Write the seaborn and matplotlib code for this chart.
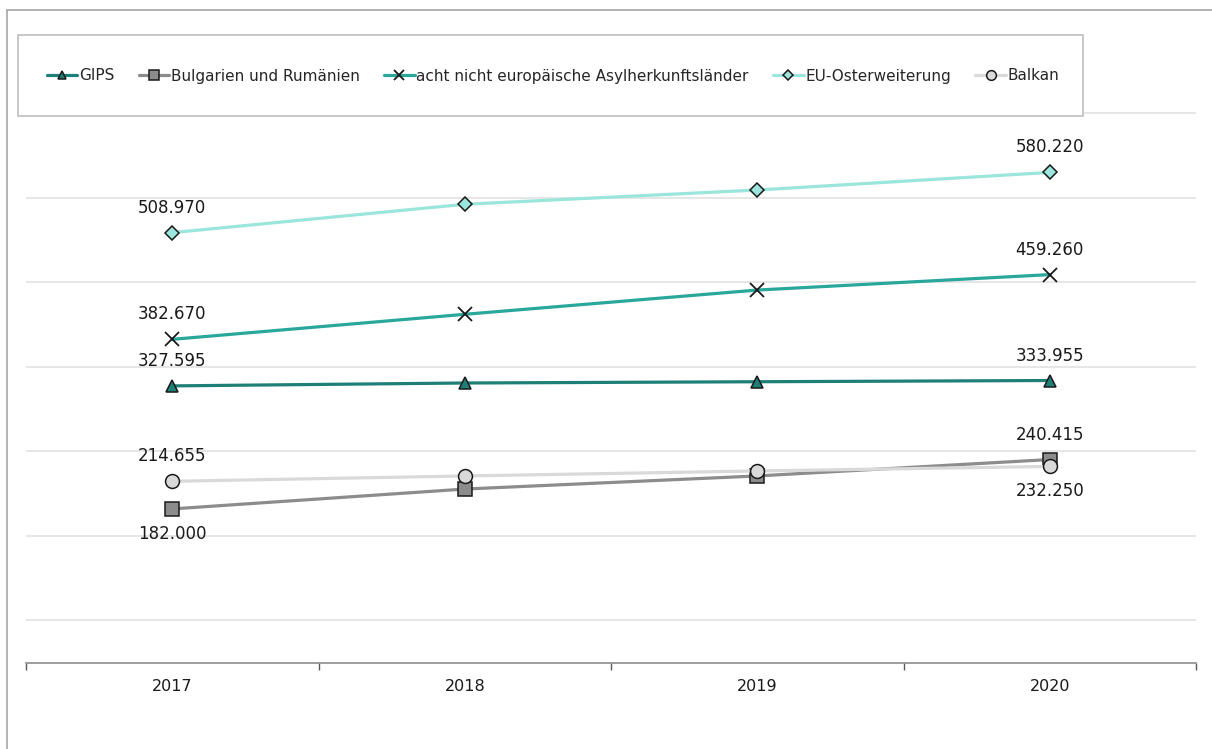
import pandas as pd
import matplotlib.pyplot as plt
import seaborn as sns
from matplotlib.patches import Rectangle
from matplotlib.lines import Line2D

# Values (persons), years as categories
years = ['2017', '2018', '2019', '2020']
series = ['GIPS', 'Bulgarien und Rumänien', 'acht nicht europäische Asylherkunftsländer',
          'EU-Osterweiterung', 'Balkan']
gips = [327595, 331000, 332500, 333955]
bulg_rum = [182000, 205500, 221000, 240415]
acht = [382670, 412300, 441000, 459260]
eu_ost = [508970, 542500, 559400, 580220]
balkan = [214655, 221000, 226900, 232250]

colors = ['#1E7F77', '#8C8C8C', '#2AA79B', '#9AE5DC', '#D9D9D9']
markers = ['^', 's', 'x', 'D', 'o']
msizes = [9, 9.5, 10, 7.5, 10]

# which end labels sit below the point
below = {('Bulgarien und Rumänien', '2017'), ('Balkan', '2020')}

sns.set_style('white')
plt.rcParams['font.family'] = ['DejaVu Sans']

W, H = 1212, 749
fig = plt.figure(figsize=(W / 100, H / 100), dpi=100)
ax = fig.add_axes([26 / W, 1 - 662.7 / H, 1170 / W, 591.5 / H])

all_vals = [gips, bulg_rum, acht, eu_ost, balkan]
for s, vals, c, m, ms in zip(series, all_vals, colors, markers, msizes):
    d = pd.DataFrame({'Jahr': years, 'Wert': vals})
    sns.lineplot(data=d, x='Jahr', y='Wert', color=c, marker=m, markersize=ms,
                 lw=2.3, markerfacecolor=c, markeredgecolor='#1A1A1A',
                 markeredgewidth=1.3 if m == 'x' else 1.1, sort=False, label=s, ax=ax)

handles, labels = ax.get_legend_handles_labels()
ax.get_legend().remove()

ax.set_xlim(-0.5, 3.5)
ax.set_ylim(0, 700000)
ax.set_yticks(range(50000, 700000, 100000))
ax.yaxis.grid(True, color='#E6E6E6', lw=1.4)
ax.set_axisbelow(True)
ax.tick_params(axis='y', left=False, labelleft=False)
ax.set_xticks(range(len(years)))
ax.set_xticklabels(years)
ax.set_xticks([i - 0.5 for i in range(len(years) + 1)], minor=True)
ax.tick_params(axis='x', which='major', length=0, pad=12, labelsize=11.5, colors='#1A1A1A')
ax.tick_params(axis='x', which='minor', bottom=True, length=5, direction='out',
               color='#595959', width=1)
ax.set_xlabel('')
ax.set_ylabel('')
for side in ['left', 'right', 'top']:
    ax.spines[side].set_visible(False)
ax.spines['bottom'].set_color('#8C8C8C')
ax.spines['bottom'].set_linewidth(1.2)

# data labels on first and last year
for s, vals in zip(series, all_vals):
    for i in [0, len(years) - 1]:
        dy = -25 if (s, years[i]) in below else 25
        ax.annotate(f'{vals[i]:,}'.replace(',', '.'), (i, vals[i]),
                    xytext=(0, dy), textcoords='offset pixels',
                    ha='center', va='center', fontsize=12, color='#1A1A1A')

# outer frame (cut off at right and bottom)
fig.add_artist(Line2D([7 / W, 1], [1 - 10 / H, 1 - 10 / H], color='#A6A6A6', lw=1.2))
fig.add_artist(Line2D([7 / W, 7 / W], [0, 1 - 10 / H], color='#A6A6A6', lw=1.2))

# legend box
fig.add_artist(Rectangle((18 / W, 1 - 116 / H), (1083 - 18) / W, 81 / H,
                         transform=fig.transFigure, facecolor='white',
                         edgecolor='#BFBFBF', lw=1.2, zorder=3))
fig.legend(handles, labels, loc='center', bbox_to_anchor=(553 / W, 1 - 76 / H),
           ncol=5, frameon=False, fontsize=11, handlelength=2.0, handletextpad=0.1,
           columnspacing=1.6, markerscale=0.7).set_zorder(4)

fig.savefig('out.png', dpi=100)
